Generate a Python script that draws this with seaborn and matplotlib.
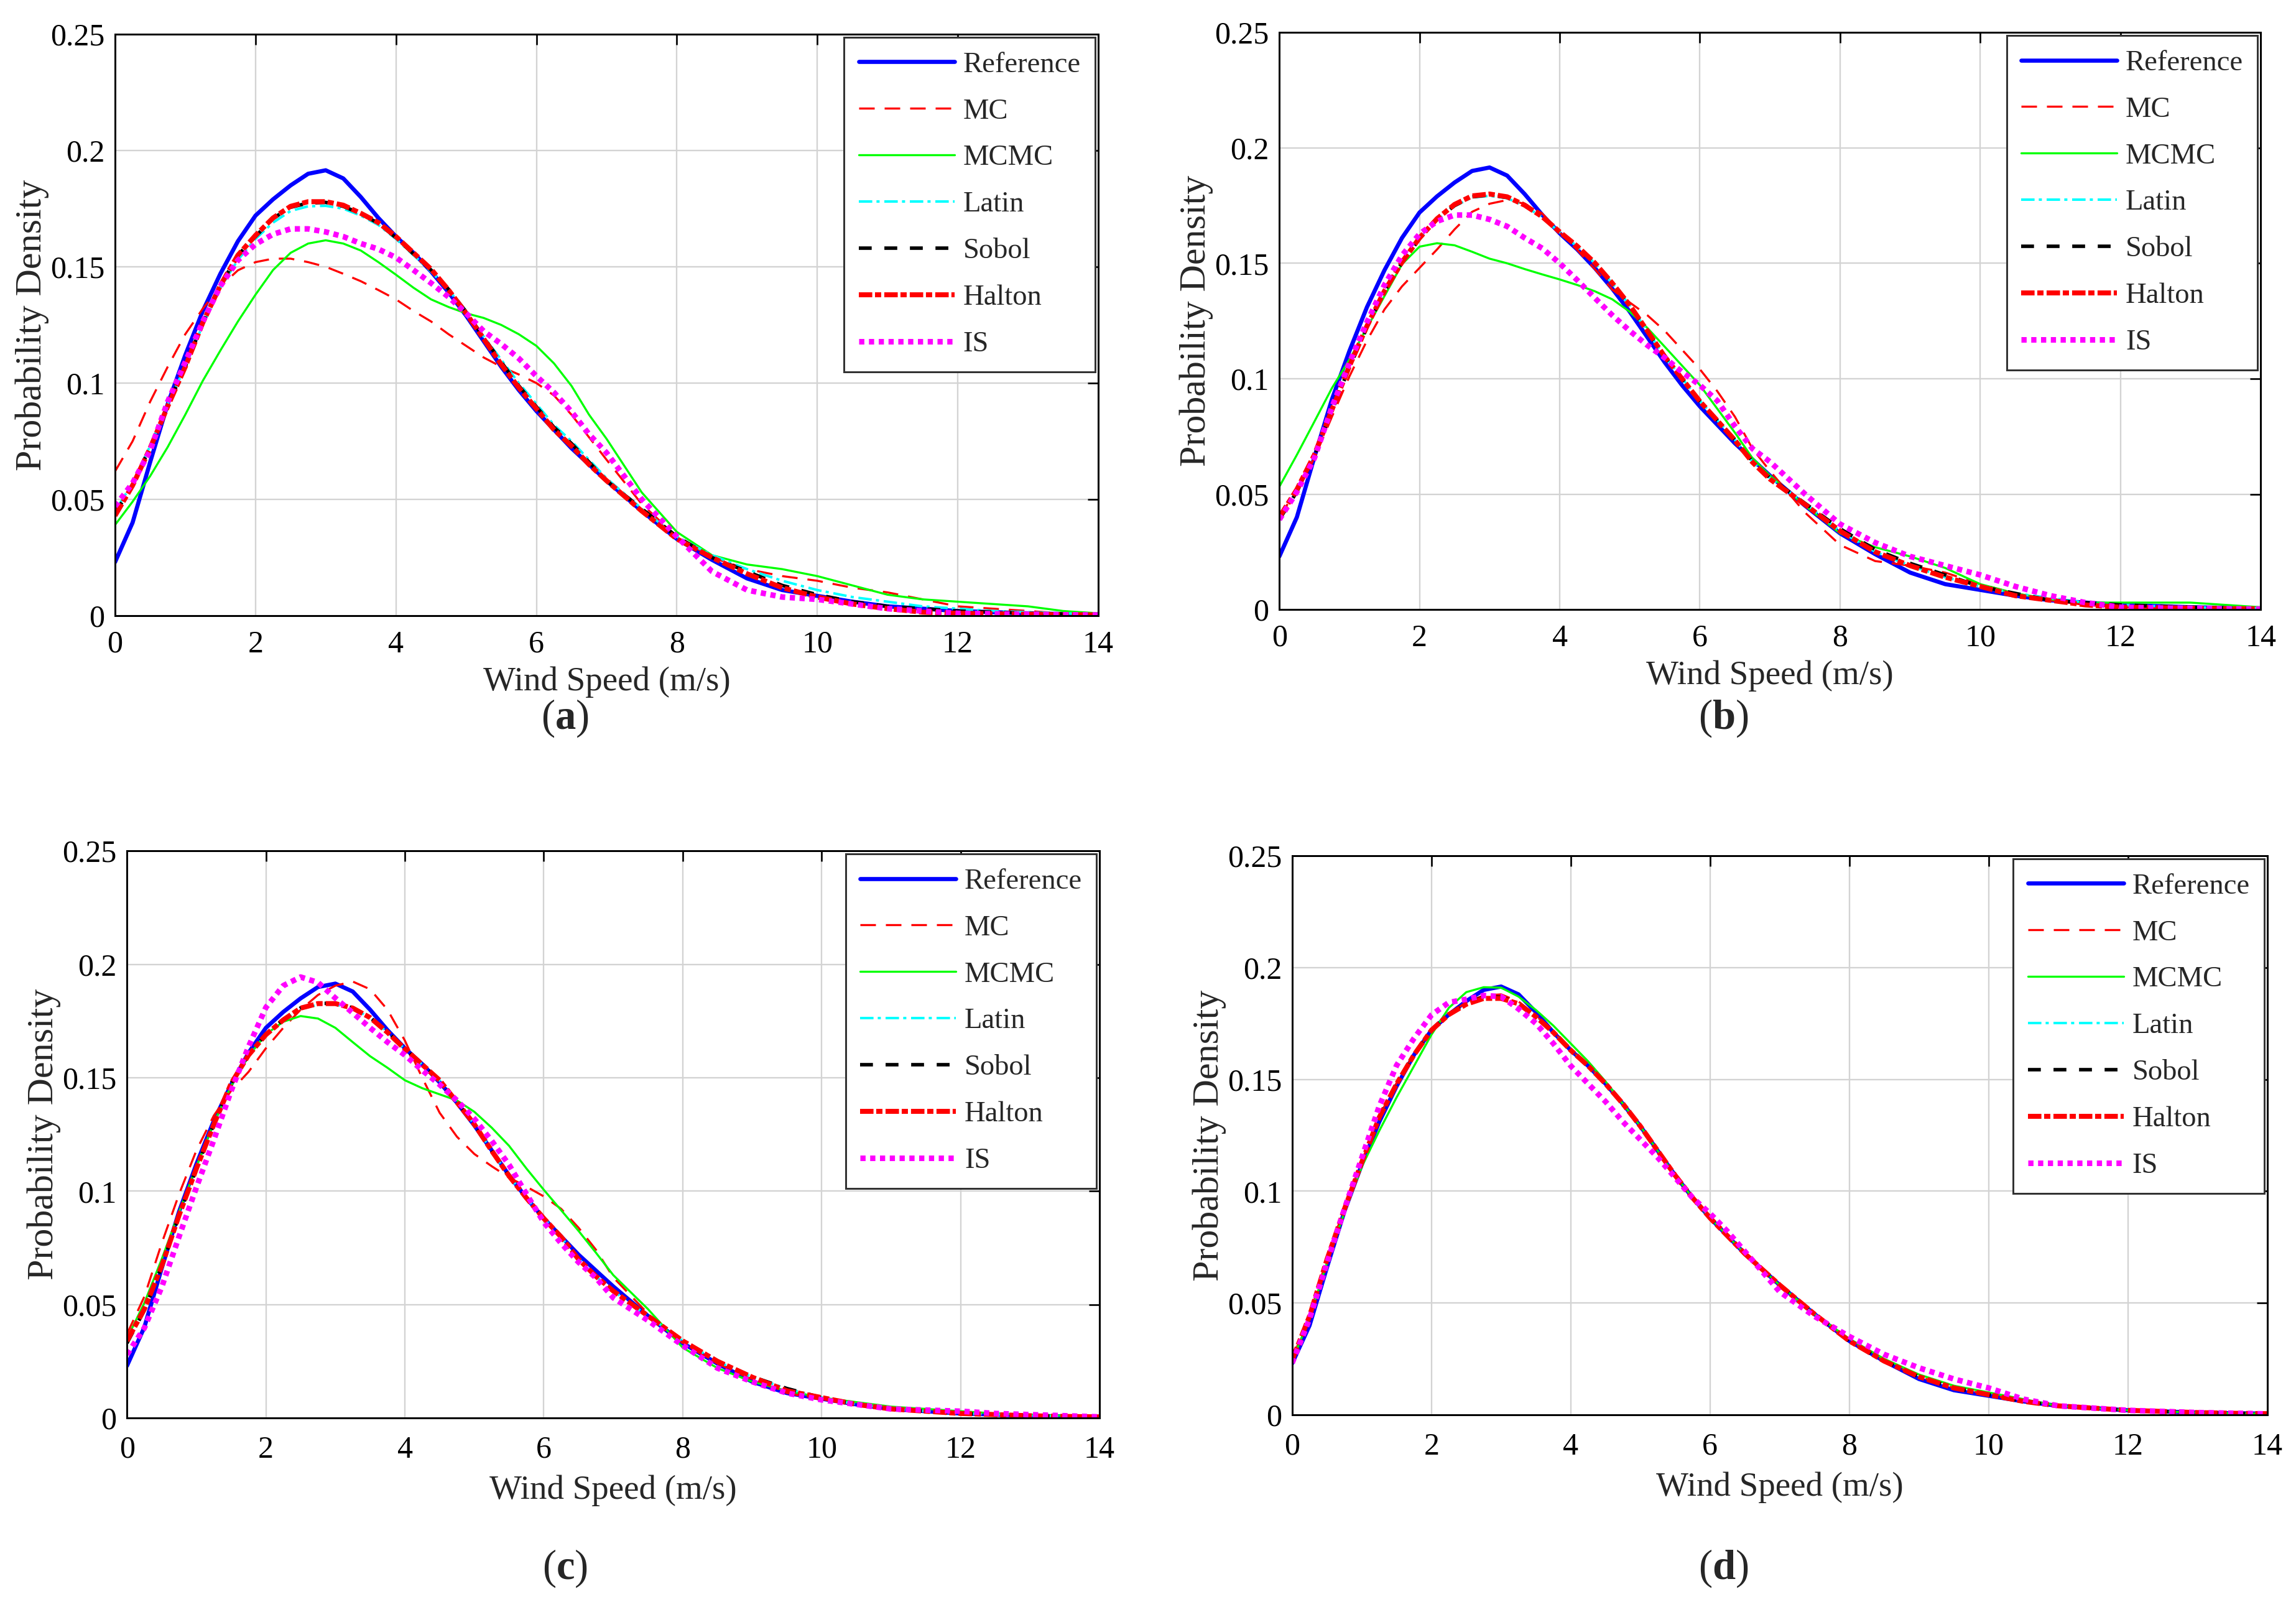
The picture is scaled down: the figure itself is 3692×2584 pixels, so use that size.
import numpy as np
import pandas as pd
import matplotlib
matplotlib.use('Agg')
import matplotlib.pyplot as plt
import seaborn as sns

wind_speed = [0.0, 0.25, 0.5, 0.75, 1.0, 1.25, 1.5, 1.75, 2.0, 2.25, 2.5, 2.75,
              3.0, 3.25, 3.5, 3.75, 4.0, 4.25, 4.5, 4.75, 5.0, 5.25, 5.5, 5.75,
              6.0, 6.25, 6.5, 6.75, 7.0, 7.5, 8.0, 8.5, 9.0, 9.5, 10.0, 10.5,
              11.0, 11.5, 12.0, 12.5, 13.0, 13.5, 14.0]

methods = ['Reference', 'MC', 'MCMC', 'Latin', 'Sobol', 'Halton', 'IS']
panel_labels = ['a', 'b', 'c', 'd']
y_ticks = [0, 0.05, 0.1, 0.15, 0.2, 0.25]
y_tick_labels = ['0', '0.05', '0.1', '0.15', '0.2', '0.25']
x_ticks = [0, 2, 4, 6, 8, 10, 12, 14]

# reference pdf (same curve in every panel)
reference = [0.023, 0.040, 0.066, 0.091, 0.112, 0.131, 0.147, 0.161, 0.172, 0.179, 0.185, 0.190,
             0.1915, 0.188, 0.180, 0.171, 0.163, 0.156, 0.148, 0.139, 0.129, 0.118, 0.107, 0.097,
             0.088, 0.080, 0.072, 0.065, 0.058, 0.045, 0.033, 0.024, 0.016, 0.011, 0.0085, 0.006,
             0.004, 0.003, 0.002, 0.0015, 0.001, 0.0007, 0.0005]

# ---- (a) ----
mc_a = [0.062, 0.075, 0.092, 0.107, 0.121, 0.132, 0.1415, 0.1485, 0.152, 0.1535, 0.1535, 0.152,
        0.150, 0.147, 0.1438, 0.140, 0.136, 0.131, 0.1265, 0.121, 0.116, 0.111, 0.107, 0.1037,
        0.100, 0.0947, 0.0864, 0.0767, 0.067, 0.048, 0.034, 0.025, 0.020, 0.017, 0.015, 0.012,
        0.010, 0.007, 0.004, 0.003, 0.002, 0.001, 0.0005]
mcmc_a = [0.039, 0.049, 0.060, 0.0725, 0.0864, 0.101, 0.114, 0.1265, 0.138, 0.1486, 0.156, 0.160,
          0.1614, 0.160, 0.157, 0.152, 0.1466, 0.141, 0.136, 0.1327, 0.130, 0.128, 0.125, 0.121,
          0.116, 0.1085, 0.0988, 0.0864, 0.076, 0.053, 0.036, 0.026, 0.022, 0.020, 0.017, 0.013,
          0.009, 0.007, 0.006, 0.005, 0.004, 0.002, 0.001]
latin_a = [0.045, 0.057, 0.073, 0.091, 0.107, 0.125, 0.141, 0.153, 0.162, 0.169, 0.174, 0.176,
           0.1762, 0.175, 0.172, 0.168, 0.162, 0.155, 0.148, 0.140, 0.131, 0.120, 0.110, 0.100,
           0.091, 0.082, 0.075, 0.067, 0.059, 0.046, 0.034, 0.026, 0.020, 0.015, 0.011, 0.008,
           0.006, 0.004, 0.003, 0.002, 0.0015, 0.001, 0.0005]
sobol_a = [0.044, 0.056, 0.0725, 0.0905, 0.107, 0.126, 0.142, 0.155, 0.163, 0.1708, 0.1756, 0.1774,
           0.1777, 0.176, 0.1728, 0.1687, 0.1625, 0.1555, 0.1486, 0.1403, 0.1306, 0.1196, 0.109, 0.0988,
           0.0898, 0.081, 0.074, 0.066, 0.058, 0.046, 0.034, 0.025, 0.019, 0.013, 0.009, 0.006,
           0.004, 0.003, 0.002, 0.0015, 0.001, 0.0007, 0.0005]
halton_a = [0.043, 0.056, 0.072, 0.090, 0.107, 0.126, 0.142, 0.155, 0.1635, 0.171, 0.176, 0.178,
            0.178, 0.1765, 0.173, 0.169, 0.163, 0.156, 0.149, 0.140, 0.130, 0.119, 0.108, 0.098,
            0.089, 0.080, 0.073, 0.065, 0.058, 0.045, 0.033, 0.025, 0.018, 0.012, 0.008, 0.005,
            0.003, 0.0015, 0.001, 0.0008, 0.0006, 0.0004, 0.0003]
is_a = [0.047, 0.057, 0.071, 0.092, 0.109, 0.1265, 0.1417, 0.1528, 0.1597, 0.164, 0.1663, 0.1663,
        0.165, 0.163, 0.160, 0.1576, 0.154, 0.1486, 0.143, 0.137, 0.130, 0.1223, 0.1168, 0.1106,
        0.103, 0.096, 0.0877, 0.078, 0.070, 0.050, 0.034, 0.019, 0.011, 0.008, 0.007, 0.005,
        0.003, 0.002, 0.001, 0.0008, 0.0006, 0.0004, 0.0003]

# ---- (b) ----
mc_b = [0.040, 0.052, 0.0656, 0.0835, 0.101, 0.1165, 0.130, 0.140, 0.148, 0.156, 0.1647, 0.1723,
        0.1758, 0.1774, 0.1758, 0.1716, 0.1634, 0.1558, 0.1475, 0.1386, 0.133, 0.1275, 0.1207, 0.1124,
        0.1041, 0.0945, 0.0835, 0.0697, 0.060, 0.042, 0.028, 0.021, 0.019, 0.016, 0.011, 0.007,
        0.004, 0.002, 0.001, 0.0007, 0.0005, 0.0003, 0.0002]
mcmc_b = [0.0532, 0.067, 0.0814, 0.0959, 0.1083, 0.122, 0.1358, 0.1496, 0.1572, 0.1587, 0.1578, 0.155,
          0.152, 0.150, 0.1475, 0.1452, 0.143, 0.1406, 0.1379, 0.1344, 0.129, 0.122, 0.1138, 0.1055,
          0.0972, 0.0869, 0.0766, 0.0656, 0.058, 0.045, 0.033, 0.027, 0.023, 0.018, 0.011, 0.007,
          0.0045, 0.003, 0.003, 0.003, 0.003, 0.002, 0.001]
latin_b = [0.040, 0.052, 0.067, 0.0865, 0.1055, 0.1226, 0.1379, 0.1503, 0.1606, 0.1689, 0.1748, 0.1785,
           0.1792, 0.1782, 0.1748, 0.170, 0.1634, 0.1572, 0.150, 0.1413, 0.1317, 0.1207, 0.1096, 0.100,
           0.0904, 0.082, 0.0735, 0.064, 0.057, 0.046, 0.034, 0.025, 0.019, 0.014, 0.010, 0.007,
           0.005, 0.003, 0.002, 0.0015, 0.001, 0.0007, 0.0005]
sobol_b = [0.039, 0.051, 0.0665, 0.086, 0.105, 0.1222, 0.1378, 0.1503, 0.1606, 0.169, 0.175, 0.1788,
           0.1796, 0.1785, 0.175, 0.170, 0.1635, 0.1573, 0.150, 0.1412, 0.1316, 0.1205, 0.1094, 0.0998,
           0.0903, 0.082, 0.0736, 0.0642, 0.057, 0.046, 0.035, 0.026, 0.020, 0.015, 0.010, 0.007,
           0.004, 0.003, 0.002, 0.0015, 0.001, 0.0007, 0.0005]
halton_b = [0.040, 0.052, 0.067, 0.0865, 0.1055, 0.1228, 0.138, 0.1505, 0.161, 0.1693, 0.1755, 0.1792,
            0.180, 0.1788, 0.1752, 0.1702, 0.1636, 0.1574, 0.1502, 0.1414, 0.1318, 0.1207, 0.1095, 0.0998,
            0.0902, 0.0818, 0.0733, 0.0638, 0.0565, 0.0455, 0.034, 0.025, 0.019, 0.014, 0.010, 0.006,
            0.004, 0.002, 0.001, 0.0008, 0.0006, 0.0004, 0.0003]
is_b = [0.039, 0.051, 0.0656, 0.0876, 0.1069, 0.1245, 0.1406, 0.1534, 0.1627, 0.1682, 0.1709, 0.1709,
        0.169, 0.166, 0.161, 0.1565, 0.150, 0.1427, 0.135, 0.1275, 0.1207, 0.1145, 0.109, 0.1028,
        0.0972, 0.0904, 0.0794, 0.0697, 0.064, 0.050, 0.037, 0.029, 0.023, 0.019, 0.015, 0.010,
        0.006, 0.003, 0.001, 0.0007, 0.0005, 0.0003, 0.0002]

# ---- (c) ----
mc_c = [0.037, 0.0535, 0.077, 0.0987, 0.118, 0.1333, 0.1443, 0.1526, 0.163, 0.172, 0.180, 0.1865,
        0.1906, 0.1924, 0.189, 0.180, 0.1664, 0.150, 0.1346, 0.124, 0.1164, 0.111, 0.106, 0.102,
        0.0977, 0.0922, 0.0839, 0.0742, 0.062, 0.046, 0.033, 0.024, 0.017, 0.011, 0.008, 0.006,
        0.004, 0.003, 0.002, 0.0015, 0.001, 0.0007, 0.0005]
mcmc_c = [0.035, 0.0507, 0.070, 0.0908, 0.1109, 0.130, 0.1464, 0.1595, 0.1692, 0.1747, 0.1772, 0.1761,
          0.172, 0.1657, 0.1595, 0.1544, 0.1489, 0.1454, 0.1427, 0.140, 0.135, 0.128, 0.120, 0.110,
          0.1006, 0.0916, 0.0825, 0.0729, 0.063, 0.048, 0.031, 0.022, 0.016, 0.012, 0.009, 0.007,
          0.005, 0.004, 0.003, 0.002, 0.0015, 0.001, 0.0005]
latin_c = [0.034, 0.048, 0.067, 0.0894, 0.110, 0.1294, 0.1475, 0.160, 0.169, 0.1753, 0.1803, 0.1822,
           0.1823, 0.1805, 0.1765, 0.170, 0.1627, 0.1558, 0.1489, 0.1392, 0.1295, 0.1178, 0.1067, 0.097,
           0.088, 0.0798, 0.070, 0.0625, 0.056, 0.045, 0.034, 0.025, 0.018, 0.013, 0.009, 0.006,
           0.004, 0.003, 0.002, 0.0015, 0.001, 0.0007, 0.0005]
sobol_c = [0.033, 0.0475, 0.0668, 0.0893, 0.110, 0.1295, 0.1476, 0.1602, 0.1692, 0.1757, 0.1808, 0.1828,
           0.1828, 0.1808, 0.1766, 0.1702, 0.1628, 0.1558, 0.1489, 0.1392, 0.1294, 0.1177, 0.1066, 0.097,
           0.0881, 0.0799, 0.0702, 0.0627, 0.0562, 0.0452, 0.0342, 0.0252, 0.0182, 0.013, 0.009, 0.006,
           0.004, 0.003, 0.002, 0.0015, 0.001, 0.0007, 0.0005]
halton_c = [0.034, 0.048, 0.067, 0.0894, 0.110, 0.1294, 0.1475, 0.160, 0.169, 0.1755, 0.1807, 0.1827,
            0.1827, 0.1807, 0.1765, 0.170, 0.1627, 0.1558, 0.1489, 0.1392, 0.1295, 0.1178, 0.1067, 0.097,
            0.088, 0.0798, 0.070, 0.0625, 0.056, 0.045, 0.034, 0.025, 0.018, 0.012, 0.009, 0.006,
            0.004, 0.003, 0.002, 0.0015, 0.001, 0.0007, 0.0005]
is_c = [0.028, 0.0397, 0.0577, 0.080, 0.1017, 0.1226, 0.1443, 0.1637, 0.181, 0.1906, 0.1944, 0.192,
        0.1851, 0.1786, 0.172, 0.1657, 0.160, 0.1533, 0.147, 0.140, 0.1319, 0.1222, 0.1116, 0.0987,
        0.0863, 0.077, 0.0687, 0.0618, 0.053, 0.043, 0.032, 0.022, 0.016, 0.011, 0.008, 0.006,
        0.004, 0.0035, 0.003, 0.002, 0.0015, 0.001, 0.0005]

# ---- (d) ----
mc_d = [0.025, 0.0445, 0.070, 0.0925, 0.1135, 0.1335, 0.1485, 0.1615, 0.172, 0.1792, 0.1845, 0.1875,
        0.188, 0.1848, 0.1785, 0.1712, 0.1632, 0.1562, 0.1482, 0.139, 0.129, 0.118, 0.107, 0.097,
        0.088, 0.080, 0.072, 0.065, 0.058, 0.045, 0.033, 0.024, 0.017, 0.012, 0.009, 0.006,
        0.004, 0.003, 0.002, 0.0015, 0.001, 0.0007, 0.0005]
mcmc_d = [0.024, 0.0435, 0.068, 0.0905, 0.111, 0.127, 0.142, 0.156, 0.170, 0.182, 0.189, 0.1912,
          0.191, 0.187, 0.181, 0.174, 0.166, 0.158, 0.149, 0.139, 0.129, 0.118, 0.107, 0.097,
          0.088, 0.080, 0.072, 0.065, 0.058, 0.045, 0.034, 0.025, 0.018, 0.013, 0.010, 0.007,
          0.004, 0.003, 0.002, 0.0015, 0.001, 0.0007, 0.0005]
latin_d = [0.0246, 0.0442, 0.0695, 0.092, 0.113, 0.133, 0.148, 0.161, 0.172, 0.179, 0.1838, 0.1866,
           0.1866, 0.184, 0.178, 0.171, 0.163, 0.156, 0.148, 0.139, 0.129, 0.118, 0.107, 0.097,
           0.088, 0.080, 0.072, 0.065, 0.058, 0.045, 0.033, 0.024, 0.017, 0.012, 0.009, 0.006,
           0.004, 0.003, 0.002, 0.0015, 0.001, 0.0007, 0.0005]
sobol_d = [0.0246, 0.0442, 0.0695, 0.092, 0.113, 0.133, 0.148, 0.161, 0.1722, 0.1792, 0.184, 0.1868,
           0.1868, 0.1842, 0.1782, 0.1712, 0.1632, 0.156, 0.148, 0.139, 0.129, 0.118, 0.107, 0.097,
           0.088, 0.080, 0.072, 0.065, 0.058, 0.045, 0.033, 0.024, 0.017, 0.012, 0.009, 0.006,
           0.004, 0.003, 0.002, 0.0015, 0.001, 0.0007, 0.0005]
halton_d = [0.0246, 0.0442, 0.0695, 0.092, 0.113, 0.133, 0.148, 0.161, 0.172, 0.179, 0.1836, 0.1862,
            0.1862, 0.1838, 0.178, 0.171, 0.163, 0.156, 0.148, 0.139, 0.129, 0.118, 0.107, 0.097,
            0.088, 0.080, 0.072, 0.065, 0.058, 0.045, 0.033, 0.024, 0.017, 0.012, 0.009, 0.006,
            0.004, 0.003, 0.002, 0.0015, 0.001, 0.0007, 0.0005]
is_d = [0.0232, 0.043, 0.068, 0.092, 0.115, 0.138, 0.1563, 0.1684, 0.1788, 0.1844, 0.1858, 0.1875,
        0.187, 0.1815, 0.175, 0.166, 0.156, 0.148, 0.140, 0.131, 0.123, 0.115, 0.106, 0.097,
        0.090, 0.082, 0.073, 0.064, 0.055, 0.044, 0.035, 0.027, 0.021, 0.016, 0.012, 0.007,
        0.004, 0.003, 0.002, 0.0015, 0.001, 0.0007, 0.0004]

panel_series = {
    'a': [reference, mc_a, mcmc_a, latin_a, sobol_a, halton_a, is_a],
    'b': [reference, mc_b, mcmc_b, latin_b, sobol_b, halton_b, is_b],
    'c': [reference, mc_c, mcmc_c, latin_c, sobol_c, halton_c, is_c],
    'd': [reference, mc_d, mcmc_d, latin_d, sobol_d, halton_d, is_d],
}

# line styles (MATLAB look)
palette = {'Reference': '#0000ff', 'MC': '#ff0000', 'MCMC': '#00ff00', 'Latin': '#00ffff',
           'Sobol': '#000000', 'Halton': '#ff0000', 'IS': '#ff00ff'}
sizes = {'Reference': 2.0, 'MC': 1.0, 'MCMC': 1.0, 'Latin': 1.2, 'Sobol': 1.7,
         'Halton': 2.4, 'IS': 2.7}
dashes = {'Reference': '', 'MC': (7.5, 4.8), 'MCMC': '', 'Latin': (5.4, 1.7, 1.25, 1.9),
          'Sobol': (3.65, 3.6), 'Halton': (2.7, 0.55, 1.25, 0.62), 'IS': (0.93, 0.82)}

sns.set_style('white')
plt.rcParams['font.family'] = ['Liberation Serif', 'DejaVu Serif']
plt.rcParams['mathtext.fontset'] = 'custom'
plt.rcParams['mathtext.rm'] = 'Liberation Serif'
plt.rcParams['mathtext.bf'] = 'Liberation Serif:bold'

fig = plt.figure(figsize=(3692 / 240, 2584 / 240), dpi=240)

# axes boxes [left, bottom, width, height] in figure fraction
positions = {
    'a': [0.0501, 0.6169, 0.4282, 0.3618],
    'b': [0.5572, 0.6207, 0.4274, 0.3591],
    'c': [0.0553, 0.1176, 0.4236, 0.3529],
    'd': [0.5628, 0.1196, 0.4247, 0.3479],
}
label_pos = {'a': (0.246, 0.553), 'b': (0.7506, 0.553),
             'c': (0.246, 0.024), 'd': (0.7506, 0.024)}

for p in panel_labels:
    ax = fig.add_axes(positions[p])
    rows = []
    for m, vals in zip(methods, panel_series[p]):
        for x, y in zip(wind_speed, vals):
            rows.append({'speed': x, 'pdf': y, 'method': m})
    df = pd.DataFrame(rows)

    sns.lineplot(data=df, x='speed', y='pdf', hue='method', size='method', style='method',
                 hue_order=methods, size_order=methods, style_order=methods,
                 palette=palette, sizes=sizes, dashes=dashes, errorbar=None,
                 legend=False, ax=ax)

    ax.set_xlim(0, 14)
    ax.set_ylim(0, 0.25)
    ax.set_xticks(x_ticks)
    ax.set_xticklabels([str(t) for t in x_ticks])
    ax.set_yticks(y_ticks)
    ax.set_yticklabels(y_tick_labels)
    ax.grid(True, color='#d3d3d3', linewidth=0.7)
    ax.set_axisbelow(True)
    for s in ax.spines.values():
        s.set_color('black')
        s.set_linewidth(0.9)
    ax.tick_params(direction='in', top=True, right=True, length=5, width=0.8,
                   labelsize=15, colors='black')
    bottom_row = p in ('c', 'd')
    ax.tick_params(axis='x', pad=8.5 if bottom_row else 7)
    ax.tick_params(axis='y', pad=5)
    ax.set_xlabel('Wind Speed (m/s)', fontsize=16.5, labelpad=5 if bottom_row else 3.5)
    ax.set_ylabel('Probability Density', fontsize=18, labelpad=0.5)

    leg = ax.legend(ax.get_lines(), methods, loc='upper right', fontsize=14,
                    frameon=True, fancybox=False, framealpha=1, edgecolor='#333333',
                    handlelength=3.3, handletextpad=0.3, labelspacing=0.69,
                    borderpad=0.5, borderaxespad=0.1)
    leg.get_frame().set_linewidth(0.9)

    fig.text(label_pos[p][0], label_pos[p][1], r'($\mathbf{' + p + '}$)',
             fontsize=20, ha='center', va='center')

fig.savefig('out.png', dpi=240)
